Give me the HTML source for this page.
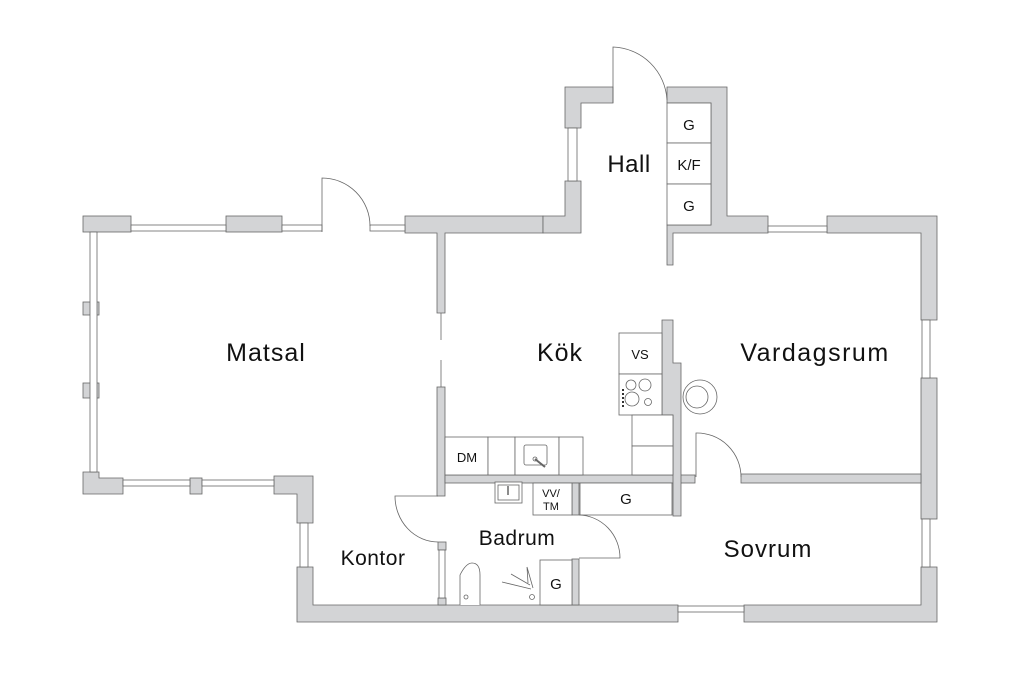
<!DOCTYPE html>
<html><head><meta charset="utf-8"><style>
html,body{margin:0;padding:0;background:#fff;width:1024px;height:683px;overflow:hidden}
svg{display:block}
text{font-family:"Liberation Sans",sans-serif;fill:#111}
</style></head><body>
<svg width="1024" height="683" viewBox="0 0 1024 683" xmlns="http://www.w3.org/2000/svg">
<g fill="#d3d4d6" stroke="#666" stroke-width="0.8">
<rect x="83" y="216" width="48" height="16"/>
<rect x="226" y="216" width="56" height="16"/>
<path d="M405 216 H543 V233 H445 V313 H437 V233 H405 Z"/>
<path d="M543 216 H565 V181 H581 V233 H543 Z"/>
<path d="M565 87 H613 V103 H581 V128 H565 Z"/>
<path d="M667 87 H727 V216 H768 V233 H673 V265 H667 V225 H711 V103 H667 Z"/>
<path d="M827 216 H937 V320 H921 V233 H827 Z"/>
<rect x="921" y="378" width="16" height="141"/>
<path d="M921 567 H937 V622 H744 V605 H921 Z"/>
<path d="M297 567 H313 V605 H678 V622 H297 Z"/>
<path d="M274 476 H313 V523 H297 V494 H274 Z"/>
<path d="M83 472 H99 V478 H123 V494 H83 Z"/>
<rect x="190" y="478" width="12" height="16"/>
<rect x="83" y="302" width="16" height="13"/>
<rect x="83" y="383" width="16" height="15"/>
<rect x="437" y="387" width="8" height="109"/>
<rect x="445" y="475" width="250" height="8"/>
<rect x="741" y="474" width="180" height="9"/>
<path d="M662 320 H673 V363 H681 V516 H673 V415 H662 Z"/>
<rect x="572" y="483" width="7" height="32"/>
<rect x="572" y="559" width="7" height="46"/>
<rect x="438" y="542" width="8" height="8"/>
<rect x="438" y="598" width="8" height="7"/>
</g>
<g fill="#fff" stroke="#666" stroke-width="0.8">
<rect x="131" y="225" width="95" height="6"/>
<rect x="282" y="225" width="40" height="6"/>
<rect x="370" y="225" width="35" height="6"/>
<rect x="568" y="128" width="9" height="53"/>
<rect x="768" y="226" width="59" height="6"/>
<rect x="922" y="320" width="8" height="58"/>
<rect x="922" y="519" width="8" height="48"/>
<rect x="678" y="606" width="66" height="6"/>
<rect x="90" y="232" width="7" height="240"/>
<rect x="123" y="480" width="67" height="6"/>
<rect x="202" y="480" width="72" height="6"/>
<rect x="300" y="523" width="8" height="44"/>
<rect x="439" y="550" width="6" height="48"/>
<rect x="667" y="103" width="44" height="40"/>
<rect x="667" y="143" width="44" height="41"/>
<rect x="667" y="184" width="44" height="41"/>
<rect x="619" y="333" width="43" height="41"/>
<rect x="619" y="374" width="43" height="41"/>
<rect x="632" y="415" width="41" height="31"/>
<rect x="632" y="446" width="41" height="29"/>
<rect x="445" y="437" width="43" height="38"/>
<rect x="488" y="437" width="27" height="38"/>
<rect x="515" y="437" width="44" height="38"/>
<rect x="559" y="437" width="24" height="38"/>
<rect x="524" y="445" width="23" height="20" rx="2"/>
<rect x="533" y="483" width="39" height="32"/>
<rect x="580" y="483" width="92" height="32"/>
<rect x="540" y="560" width="32" height="45"/>
<rect x="495" y="482" width="27" height="21"/>
<rect x="498" y="485" width="21" height="15"/>
<circle cx="631" cy="385" r="5"/><circle cx="645" cy="385" r="6"/>
<circle cx="632" cy="399" r="7"/><circle cx="648" cy="402" r="3.5"/>
<circle cx="700" cy="397" r="17"/><circle cx="697" cy="397" r="11"/>
<path d="M460 605 V575 Q466 563 472 563 Q480 563 480 575 V605"/>
<circle cx="466" cy="597" r="2"/>
<circle cx="532" cy="597" r="2.5"/>
</g>
<g fill="none" stroke="#666" stroke-width="0.8">
<path d="M322 232 V178 A48 48 0 0 1 370 226"/>
<path d="M613 103 V47 A56 56 0 0 1 667 100"/>
<path d="M441 313 V340 M441 360 V387"/>
<path d="M696 477 V433 A44 44 0 0 1 741 477"/>
<path d="M438 496 H395 A43 46 0 0 0 438 542"/>
<path d="M579 515 A42 43 0 0 1 620 558 H579"/>
<path d="M531 589 L502 582 M530 585 L511 574 M528 583 L527 567 M533 588 L527 567"/>
<path d="M535 459 L545 467" stroke-width="2"/>
<circle cx="535" cy="459" r="2"/>
<path d="M508 486 V495" stroke-width="1.5"/>
<path d="M623 389 V409" stroke="#333" stroke-width="2" stroke-dasharray="2 2"/>
</g>
<g text-anchor="middle">
<text x="629" y="172" font-size="24" letter-spacing="0.5">Hall</text>
<text x="689" y="130" font-size="15">G</text>
<text x="689" y="170" font-size="15">K/F</text>
<text x="689" y="211" font-size="15">G</text>
<text x="266" y="361" font-size="25" letter-spacing="1">Matsal</text>
<text x="560" y="361" font-size="25" letter-spacing="1">Kök</text>
<text x="815" y="361" font-size="25" letter-spacing="1.5">Vardagsrum</text>
<text x="768" y="557" font-size="24" letter-spacing="1">Sovrum</text>
<text x="373" y="565" font-size="21" letter-spacing="0.5">Kontor</text>
<text x="517" y="545" font-size="21" letter-spacing="0.5">Badrum</text>
<text x="640" y="359" font-size="13">VS</text>
<text x="467" y="462" font-size="13">DM</text>
<text x="551" y="497" font-size="11">VV/</text>
<text x="551" y="510" font-size="11">TM</text>
<text x="626" y="504" font-size="15">G</text>
<text x="556" y="589" font-size="15">G</text>
</g>
</svg>
</body></html>
